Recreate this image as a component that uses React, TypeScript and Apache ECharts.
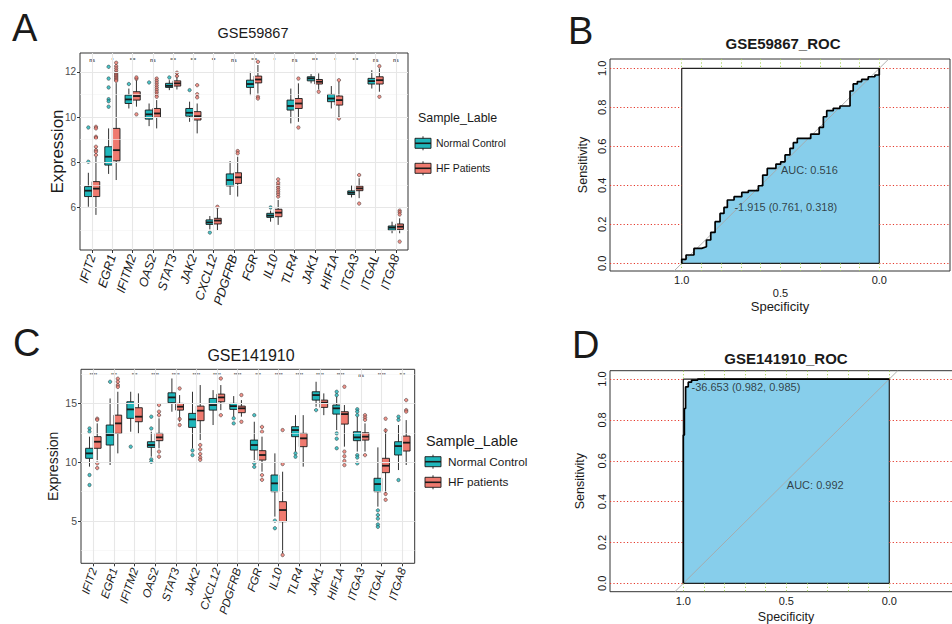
import React, { useEffect, useRef } from 'react';
import * as echarts from 'echarts';

const FONT = '"Liberation Sans", Arial, Helvetica, sans-serif';
const TEAL = '#1FB6BB';
const SALMON = '#EF7A6F';
const INK = '#1a1a1a';

const GENES = ['IFIT2', 'EGR1', 'IFITM2', 'OAS2', 'STAT3', 'JAK2', 'CXCL12', 'PDGFRB', 'FGR', 'IL10', 'TLR4', 'JAK1', 'HIF1A', 'ITGA3', 'ITGAL', 'ITGA8'];
const GENE_POS = GENES.map((_, i) => i + 1);

// Panel A (GSE59867): [low whisker, Q1, median, Q3, high whisker]
const A_NORMAL = [
  [6.04, 6.49, 6.75, 6.93, 7.54], [7.49, 7.88, 8.25, 8.69, 9.5], [10.38, 10.6, 10.78, 10.97, 11.26],
  [9.6, 9.91, 10.12, 10.31, 10.6], [11.19, 11.31, 11.38, 11.49, 11.63], [9.79, 10.04, 10.19, 10.38, 10.68],
  [5.04, 5.26, 5.35, 5.46, 5.63], [6.56, 6.96, 7.22, 7.49, 8.06], [10.97, 11.31, 11.46, 11.63, 12.0],
  [5.38, 5.57, 5.65, 5.75, 5.87], [9.72, 10.31, 10.49, 10.75, 11.26], [11.49, 11.6, 11.71, 11.78, 11.9],
  [10.38, 10.68, 10.82, 11.0, 11.37], [6.45, 6.58, 6.66, 6.74, 7.0], [11.26, 11.46, 11.59, 11.71, 12.07],
  [4.87, 5.01, 5.12, 5.19, 5.38],
];
const A_HF = [
  [5.68, 6.49, 6.84, 7.15, 8.25], [7.22, 8.07, 8.54, 9.5, 11.5], [10.46, 10.75, 10.93, 11.12, 11.63],
  [9.5, 9.99, 10.16, 10.38, 10.75], [11.22, 11.37, 11.49, 11.6, 11.9], [9.28, 9.87, 10.04, 10.24, 10.6],
  [5.01, 5.28, 5.43, 5.53, 5.97], [6.49, 7.07, 7.34, 7.54, 8.25], [11.04, 11.51, 11.66, 11.81, 12.3],
  [5.24, 5.6, 5.78, 5.93, 6.34], [9.79, 10.38, 10.6, 10.82, 11.49], [11.22, 11.46, 11.56, 11.66, 11.93],
  [10.01, 10.53, 10.75, 10.93, 11.56], [6.42, 6.75, 6.85, 6.95, 7.3], [11.12, 11.46, 11.63, 11.78, 12.15],
  [4.87, 5.04, 5.16, 5.28, 5.53],
];
const A_NORMAL_OUT = [
  [8.03, 9.54], [12.22, 11.7, 11.31, 10.79, 10.7, 10.46], [11.46], [11.53], [11.75], [11.19], [4.9], [],
  [], [6.01], [], [], [], [], [], [],
];
const A_HF_OUT = [
  [9.57, 9.5, 9.13, 9.08, 8.69, 8.54, 8.47, 8.32],
  [12.4, 12.25, 12.15, 12.05, 11.95, 11.9, 11.85, 11.8, 11.75, 11.7, 11.65, 11.6],
  [11.69, 11.75, 10.12], [11.7, 11.6, 11.5, 11.4, 11.3, 11.2, 11.1, 11.0, 10.9], [11.96, 11.81],
  [11.41, 11.01, 10.87], [6.04], [8.5, 8.4], [12.44, 10.9, 10.82], [6.49, 6.6, 6.7, 6.8, 6.9, 7.0, 7.1, 7.25],
  [11.7, 9.54], [11.12], [11.63, 9.94], [7.44, 6.18], [12.25, 10.9], [5.87, 5.8, 5.7, 4.5],
];
const A_SIG = ['ns', '*', '***', 'ns', '***', '***', '**', 'ns', '***', '*', 'ns', '***', '*', '***', 'ns', 'ns'];
const A_SIG_Y = 12.52;
const A_Y_TICKS = [6, 8, 10, 12];
const A_Y_MINOR = [5, 7, 9, 11];

// Panel C (GSE141910)
const C_NORMAL = [
  [9.62, 10.33, 10.75, 11.18, 12.17], [9.76, 11.46, 12.31, 13.16, 15.42], [12.59, 13.73, 14.49, 15.14, 15.99],
  [10.47, 11.26, 11.46, 11.74, 12.59], [14.29, 15.06, 15.51, 15.9, 17.12], [11.18, 12.96, 13.64, 14.15, 15.99],
  [13.16, 14.43, 14.86, 15.42, 16.13], [13.87, 14.49, 14.77, 15.0, 15.62], [10.18, 11.03, 11.46, 11.88, 13.44],
  [5.37, 7.49, 8.2, 8.91, 10.75], [10.9, 12.17, 12.73, 13.02, 14.0], [14.72, 15.28, 15.71, 15.99, 16.84],
  [12.73, 14.09, 14.58, 14.86, 15.57], [10.9, 11.83, 12.11, 12.59, 13.87], [6.22, 7.49, 8.14, 8.63, 11.26],
  [9.33, 10.61, 11.37, 11.74, 13.16],
];
const C_HF = [
  [10.18, 11.18, 11.74, 12.17, 13.3], [10.75, 12.45, 13.3, 14.0, 15.99], [12.45, 13.44, 13.87, 14.63, 15.85],
  [11.18, 11.83, 12.11, 12.45, 13.73], [13.44, 14.43, 14.72, 15.0, 15.71], [11.88, 13.53, 14.38, 14.77, 16.56],
  [14.43, 15.14, 15.51, 15.79, 16.56], [13.87, 14.21, 14.58, 14.77, 15.28], [9.19, 10.18, 10.61, 10.98, 12.17],
  [2.25, 4.94, 5.93, 6.64, 9.19], [9.62, 11.32, 12.03, 12.45, 14.0], [14.0, 14.66, 15.06, 15.28, 15.85],
  [11.32, 13.24, 14.09, 14.29, 14.86], [10.9, 11.88, 12.17, 12.5, 13.3], [7.35, 9.11, 9.7, 10.33, 12.87],
  [9.76, 10.95, 11.66, 12.22, 13.58],
];
const C_NORMAL_OUT = [
  [12.87, 12.6, 8.91, 8.06], [16.84], [11.32], [13.87, 12.87, 10.24, 10.04], [], [11.0, 10.6], [],
  [13.73, 13.3], [14.0, 9.9, 9.6], [5.03, 4.38], [10.75, 10.47], [14.43], [15.99, 15.7, 12.45, 12.0, 11.18],
  [14.5, 14.3, 14.0, 10.6, 10.4, 9.9], [5.9, 5.5, 5.2, 4.7, 4.5], [13.87, 13.6, 8.48],
];
const C_HF_OUT = [
  [13.7, 13.6, 9.9, 9.5], [17.1, 16.84, 16.56, 16.4], [], [14.86, 14.3, 14.0, 10.9, 10.47],
  [16.27, 13.67, 13.16], [11.46, 11.1, 10.7, 10.4, 10.2], [17.12, 14.0], [15.71, 13.44], [13.0, 12.6, 8.9, 8.5],
  [12.73, 9.84, 2.1], [], [], [16.42, 10.9, 10.5, 10.1, 9.75], [14.0, 13.8, 13.6, 10.6], [13.7, 12.7, 7.3, 6.8],
  [15.28, 14.43, 14.3],
];
const C_SIG = ['****', '***', '***', '****', '****', '****', '****', '****', '***', '****', '****', '****', '****', 'ns', '****', '***'];
const C_SIG_Y = 17.43;
const C_Y_TICKS = [5, 10, 15];
const C_Y_MINOR = [2.5, 7.5, 12.5, 17.5];

// ROC curves: [specificity, sensitivity]
const B_ROC = [
  [1.0, 0], [1.0, 0.021], [0.978, 0.021], [0.978, 0.043], [0.938, 0.043], [0.938, 0.077], [0.899, 0.077],
  [0.875, 0.085], [0.875, 0.12], [0.853, 0.12], [0.853, 0.159], [0.831, 0.159], [0.831, 0.214], [0.806, 0.214],
  [0.806, 0.256], [0.786, 0.256], [0.786, 0.287], [0.769, 0.287], [0.769, 0.325], [0.735, 0.325], [0.735, 0.342],
  [0.696, 0.342], [0.696, 0.364], [0.663, 0.364], [0.663, 0.373], [0.612, 0.373], [0.612, 0.398], [0.59, 0.398],
  [0.59, 0.453], [0.567, 0.453], [0.567, 0.487], [0.523, 0.487], [0.523, 0.509], [0.499, 0.509], [0.499, 0.521],
  [0.477, 0.521], [0.477, 0.556], [0.452, 0.556], [0.452, 0.59], [0.435, 0.59], [0.435, 0.619], [0.415, 0.619],
  [0.415, 0.641], [0.347, 0.641], [0.347, 0.663], [0.304, 0.663], [0.304, 0.697], [0.283, 0.697], [0.283, 0.752],
  [0.266, 0.752], [0.266, 0.783], [0.233, 0.783], [0.233, 0.795], [0.199, 0.795], [0.199, 0.807], [0.148, 0.807],
  [0.148, 0.884], [0.132, 0.884], [0.132, 0.92], [0.111, 0.92], [0.111, 0.932], [0.089, 0.932], [0.089, 0.944],
  [0.056, 0.944], [0.056, 0.957], [0.022, 0.957], [0.022, 0.966], [0, 0.966], [0, 1.0],
];
const D_ROC = [
  [1.0, 0], [1.0, 0.726], [0.995, 0.726], [0.995, 0.856], [0.989, 0.856], [0.989, 0.962], [0.976, 0.962],
  [0.976, 0.985], [0.96, 0.985], [0.96, 0.995], [0.93, 0.995], [0.93, 1.0], [0, 1.0],
];
const B_AUC = 'AUC: 0.516';
const B_AUC_POS = [0.5, 0.478];
const B_THRES = '-1.915 (0.761, 0.318)';
const B_THRES_POS = [0.761, 0.318];
const D_AUC = 'AUC: 0.992';
const D_AUC_POS = [0.5, 0.481];
const D_THRES = '-36.653 (0.982, 0.985)';
const D_THRES_POS = [0.982, 0.985];
const ROC_Y_TICKS = [0, 0.2, 0.4, 0.6, 0.8, 1.0];
const ROC_X_TICKS = [1.0, 0.5, 0.0];
const ROC_X_GRID = [0, 0.1, 0.2, 0.3, 0.4, 0.5, 0.6, 0.7, 0.8, 0.9, 1.0];

const BOX_W = 0.375;
const DODGE = 0.1875;

function flatOut(outs: number[][], offset: number) {
  const r: number[][] = [];
  outs.forEach((arr, i) => arr.forEach((v) => r.push([i + 1 + offset, v])));
  return r;
}

function boxSeries(gi: number, stats: number[][], color: string, offset: number) {
  return {
    type: 'custom',
    xAxisIndex: gi,
    yAxisIndex: gi,
    silent: true,
    z: 3,
    data: stats.map((d, i) => [i + 1 + offset, ...d]),
    encode: { x: 0, y: [1, 2, 3, 4, 5] },
    renderItem: (params: any, api: any) => {
      const x = api.value(0);
      const lo = api.coord([x, api.value(1)]);
      const q1 = api.coord([x, api.value(2)]);
      const med = api.coord([x, api.value(3)]);
      const q3 = api.coord([x, api.value(4)]);
      const hi = api.coord([x, api.value(5)]);
      const w = api.size([BOX_W, 0])[0];
      return {
        type: 'group',
        children: [
          { type: 'line', shape: { x1: lo[0], y1: lo[1], x2: hi[0], y2: hi[1] }, style: { stroke: INK, lineWidth: 0.9 } },
          { type: 'rect', shape: { x: q3[0] - w / 2, y: q3[1], width: w, height: q1[1] - q3[1] }, style: { fill: color, stroke: INK, lineWidth: 0.9 } },
          { type: 'line', shape: { x1: med[0] - w / 2, y1: med[1], x2: med[0] + w / 2, y2: med[1] }, style: { stroke: INK, lineWidth: 1.8 } },
        ],
      };
    },
  };
}

function outlierSeries(gi: number, outs: number[][], color: string, offset: number) {
  return {
    type: 'scatter',
    xAxisIndex: gi,
    yAxisIndex: gi,
    silent: true,
    z: 4,
    symbolSize: 3.4,
    itemStyle: { color, borderColor: '#222', borderWidth: 0.6 },
    data: flatOut(outs, offset),
  };
}

function boxGridSeries(gi: number, sig: string[], sigY: number, major: number[], minor: number[], sigFs: number) {
  return {
    type: 'scatter',
    xAxisIndex: gi,
    yAxisIndex: gi,
    silent: true,
    z: 1,
    symbolSize: 1,
    itemStyle: { color: 'rgba(0,0,0,0)' },
    data: sig.map((_, i) => [i + 1, sigY]),
    label: {
      show: true,
      position: 'inside',
      formatter: (p: any) => sig[p.dataIndex],
      fontSize: sigFs,
      fontWeight: 'bold',
      color: '#111',
      fontFamily: FONT,
    },
    markLine: {
      silent: true,
      symbol: ['none', 'none'],
      label: { show: false },
      emphasis: { disabled: true },
      data: [
        ...minor.map((v) => ({ yAxis: v, lineStyle: { color: '#F3F3F3', width: 0.6, type: 'solid' } })),
        ...major.map((v) => ({ yAxis: v, lineStyle: { color: '#E7E7E7', width: 1.1, type: 'solid' } })),
        ...GENE_POS.map((v) => ({ xAxis: v, lineStyle: { color: '#E7E7E7', width: 1.1, type: 'solid' } })),
      ],
    },
  };
}

function boxXAxis(gi: number, fs: number) {
  return {
    type: 'value',
    gridIndex: gi,
    min: 0.4,
    max: 16.6,
    axisLine: { show: false },
    splitLine: { show: false },
    axisTick: { show: true, customValues: GENE_POS, length: 3, lineStyle: { color: '#333' } },
    axisLabel: {
      customValues: GENE_POS,
      formatter: (v: number) => GENES[Math.round(v) - 1],
      rotate: 72,
      fontSize: fs,
      fontStyle: 'italic',
      fontFamily: FONT,
      color: INK,
      margin: 5,
    },
  };
}

function boxYAxis(gi: number, min: number, max: number, ticks: number[], fs: number, nameFs: number, nameGap: number) {
  return {
    type: 'value',
    gridIndex: gi,
    min,
    max,
    axisLine: { show: false },
    splitLine: { show: false },
    axisTick: { show: true, customValues: ticks, length: 3, lineStyle: { color: '#333' } },
    axisLabel: { customValues: ticks, fontSize: fs, color: '#4d4d4d', margin: 4, fontFamily: FONT },
    name: 'Expression',
    nameLocation: 'middle',
    nameGap,
    nameMoveOverlap: false,
    nameTextStyle: { fontSize: nameFs, color: INK, fontFamily: FONT },
  };
}

function rocXAxis(gi: number, min: number, max: number, stagger: boolean, nameGap: number, nameFs: number) {
  return {
    type: 'value',
    gridIndex: gi,
    inverse: true,
    min,
    max,
    axisLine: { show: false },
    splitLine: { show: false },
    axisTick: { show: false },
    axisLabel: {
      customValues: ROC_X_TICKS,
      formatter: (v: number) => (stagger && Math.abs(v - 0.5) < 1e-6 ? '\n' : '') + v.toFixed(1),
      fontSize: 11,
      color: INK,
      margin: 3,
      lineHeight: 12.5,
      fontFamily: FONT,
    },
    name: 'Specificity',
    nameLocation: 'middle',
    nameGap,
    nameMoveOverlap: false,
    nameTextStyle: { fontSize: nameFs, color: INK, fontFamily: FONT },
  };
}

function rocYAxis(gi: number, min: number, max: number, nameGap: number) {
  return {
    type: 'value',
    gridIndex: gi,
    min,
    max,
    axisLine: { show: false },
    splitLine: { show: false },
    axisTick: { show: false },
    axisLabel: {
      customValues: ROC_Y_TICKS,
      formatter: (v: number) => v.toFixed(1),
      rotate: 90,
      fontSize: 11,
      color: INK,
      margin: 3,
      fontFamily: FONT,
    },
    name: 'Sensitivity',
    nameLocation: 'middle',
    nameGap,
    nameRotate: 90,
    nameMoveOverlap: false,
    nameTextStyle: { fontSize: 12.5, color: INK, fontFamily: FONT },
  };
}

function rocSeries(gi: number, roc: number[][], xmin: number, xmax: number, ymin: number, ymax: number,
  auc: string, aucPos: number[], thres: string, thresPos: number[], thresOffset: number[]) {
  const red = { color: '#E5392C', width: 1, type: [1.2, 2.2] };
  const green = { color: '#A6D35A', width: 1, type: [1.2, 2.2] };
  const segs: any[] = [];
  ROC_Y_TICKS.forEach((v) => {
    segs.push([{ coord: [xmax, v], lineStyle: red }, { coord: [1, v] }]);
    segs.push([{ coord: [0, v], lineStyle: red }, { coord: [xmin, v] }]);
  });
  ROC_X_GRID.forEach((v) => {
    segs.push([{ coord: [v, ymax], lineStyle: green }, { coord: [v, 1] }]);
    segs.push([{ coord: [v, 0], lineStyle: green }, { coord: [v, ymin] }]);
  });
  return [
    {
      type: 'line',
      xAxisIndex: gi,
      yAxisIndex: gi,
      silent: true,
      z: 2,
      showSymbol: false,
      symbol: 'none',
      data: roc,
      lineStyle: { width: 0 },
      areaStyle: { color: '#87CEEB', opacity: 1, origin: 0 },
      markLine: { silent: true, symbol: ['none', 'none'], label: { show: false }, emphasis: { disabled: true }, data: segs },
    },
    {
      type: 'line',
      xAxisIndex: gi,
      yAxisIndex: gi,
      silent: true,
      z: 3,
      symbol: 'none',
      data: [[1 - ymin, ymin], [1 - ymax, ymax]],
      lineStyle: { color: '#A8A8A8', width: 0.9 },
    },
    {
      type: 'line',
      xAxisIndex: gi,
      yAxisIndex: gi,
      silent: true,
      z: 4,
      symbol: 'none',
      data: [[1, 0], [1, 1], [0, 1], [0, 0], [1, 0]],
      lineStyle: { color: '#222', width: 1.2 },
    },
    {
      type: 'line',
      xAxisIndex: gi,
      yAxisIndex: gi,
      silent: true,
      z: 5,
      symbol: 'none',
      data: roc,
      lineStyle: { color: '#000', width: 1.7 },
    },
    {
      type: 'scatter',
      xAxisIndex: gi,
      yAxisIndex: gi,
      silent: true,
      z: 6,
      symbolSize: 1,
      itemStyle: { color: 'rgba(0,0,0,0)' },
      data: [aucPos],
      label: { show: true, position: 'right', distance: 0, formatter: auc, fontSize: 11, color: INK, fontFamily: FONT },
    },
    {
      type: 'scatter',
      xAxisIndex: gi,
      yAxisIndex: gi,
      silent: true,
      z: 6,
      symbolSize: 1,
      itemStyle: { color: 'rgba(0,0,0,0)' },
      data: [thresPos],
      label: { show: true, position: 'right', distance: 0, offset: thresOffset, formatter: thres, fontSize: 11, color: INK, fontFamily: FONT },
    },
  ];
}

function legendKey(x: number, y: number, color: string) {
  return [
    { type: 'line', shape: { x1: x + 8, y1: y - 7, x2: x + 8, y2: y + 7 }, style: { stroke: INK, lineWidth: 0.9 } },
    { type: 'rect', shape: { x, y: y - 5, width: 16, height: 10 }, style: { fill: color, stroke: INK, lineWidth: 0.9 } },
    { type: 'line', shape: { x1: x, y1: y, x2: x + 16, y2: y }, style: { stroke: INK, lineWidth: 1.6 } },
  ];
}

function txt(text: string, x: number, y: number, fs: number, align: string, weight = 'normal') {
  return {
    type: 'text',
    x,
    y,
    style: { text, fontSize: fs, fontFamily: FONT, fontWeight: weight, fill: INK, align, verticalAlign: 'middle', textAlign: align, textVerticalAlign: 'middle' },
  };
}

function buildOption() {
  const gridBase = { show: true, borderColor: '#333', borderWidth: 1, backgroundColor: '#fff', outerBoundsMode: 'none', containLabel: false };
  const B = { xmin: -0.358, xmax: 1.363, ymin: -0.039, ymax: 1.048 };
  const D = { xmin: -0.353, xmax: 1.356, ymin: -0.041, ymax: 1.041 };
  return {
    animation: false,
    backgroundColor: '#fff',
    grid: [
      { ...gridBase, left: 80, top: 53, width: 328, height: 197 },
      { ...gridBase, left: 610, top: 59, width: 340, height: 212 },
      { ...gridBase, left: 81, top: 369.3, width: 333.7, height: 194 },
      { ...gridBase, left: 610, top: 370.7, width: 352, height: 221 },
    ],
    xAxis: [
      boxXAxis(0, 12.5),
      rocXAxis(1, B.xmin, B.xmax, true, 28.5, 13),
      boxXAxis(2, 11.5),
      rocXAxis(3, D.xmin, D.xmax, false, 18.5, 12.5),
    ],
    yAxis: [
      boxYAxis(0, 4.13, 12.83, A_Y_TICKS, 10, 17, 14.5),
      rocYAxis(1, B.ymin, B.ymax, 20.5),
      boxYAxis(2, 1.4, 17.9, C_Y_TICKS, 10.5, 14, 21),
      rocYAxis(3, D.ymin, D.ymax, 23.5),
    ],
    series: [
      boxGridSeries(0, A_SIG, A_SIG_Y, A_Y_TICKS, A_Y_MINOR, 5),
      boxSeries(0, A_NORMAL, TEAL, -DODGE),
      boxSeries(0, A_HF, SALMON, DODGE),
      outlierSeries(0, A_NORMAL_OUT, TEAL, -DODGE),
      outlierSeries(0, A_HF_OUT, SALMON, DODGE),
      boxGridSeries(2, C_SIG, C_SIG_Y, C_Y_TICKS, C_Y_MINOR, 5),
      boxSeries(2, C_NORMAL, TEAL, -DODGE),
      boxSeries(2, C_HF, SALMON, DODGE),
      outlierSeries(2, C_NORMAL_OUT, TEAL, -DODGE),
      outlierSeries(2, C_HF_OUT, SALMON, DODGE),
      ...rocSeries(1, B_ROC, B.xmin, B.xmax, B.ymin, B.ymax, B_AUC, B_AUC_POS, B_THRES, B_THRES_POS, [5, 5.5]),
      ...rocSeries(3, D_ROC, D.xmin, D.xmax, D.ymin, D.ymax, D_AUC, D_AUC_POS, D_THRES, D_THRES_POS, [4, 5.3]),
    ],
    graphic: [
      txt('A', 12, 28, 38, 'left'),
      txt('B', 568, 31, 38, 'left'),
      txt('C', 13, 342.5, 38, 'left'),
      txt('D', 572, 345, 38, 'left'),
      txt('GSE59867', 253, 33, 14.5, 'center'),
      txt('GSE141910', 251, 355, 16, 'center'),
      txt('GSE59867_ROC', 783, 43, 15, 'center', 'bold'),
      txt('GSE141910_ROC', 786, 358, 15, 'center', 'bold'),
      txt('Sample_Lable', 418, 118.3, 12.4, 'left'),
      ...legendKey(415, 143.3, TEAL),
      ...legendKey(415, 168.3, SALMON),
      txt('Normal Control', 436, 143.3, 10.4, 'left'),
      txt('HF Patients', 436, 168.3, 10.4, 'left'),
      txt('Sample_Lable', 426, 440.7, 14.4, 'left'),
      ...legendKey(425, 461.7, TEAL),
      ...legendKey(425, 482.3, SALMON),
      txt('Normal Control', 448, 461.7, 11.8, 'left'),
      txt('HF patients', 448, 482.3, 11.8, 'left'),
    ],
  };
}

export default function App() {
  const ref = useRef<HTMLDivElement>(null);
  useEffect(() => {
    if (!ref.current) return;
    const chart = echarts.init(ref.current, null, { renderer: 'svg' });
    chart.setOption(buildOption() as any);
    return () => chart.dispose();
  }, []);
  return <div ref={ref} style={{ position: 'fixed', left: 0, top: 0, width: 952, height: 624, background: '#fff' }} />;
}
